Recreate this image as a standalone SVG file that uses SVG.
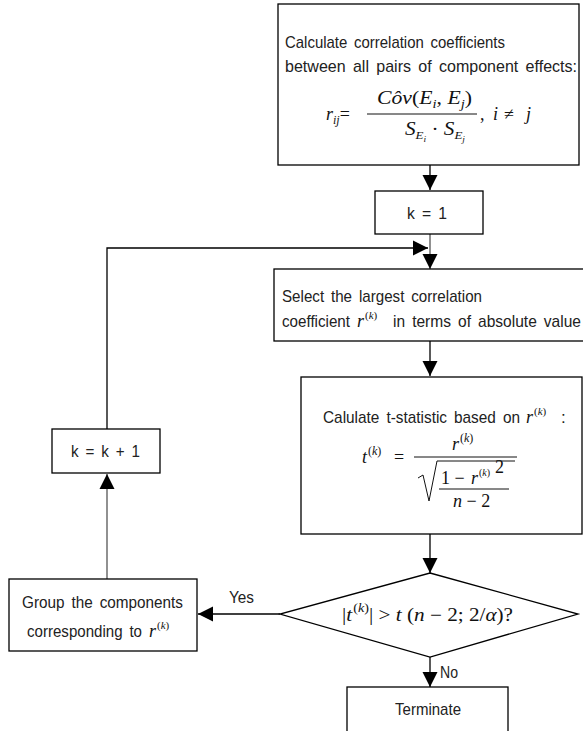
<svg xmlns="http://www.w3.org/2000/svg" width="583" height="731" viewBox="0 0 583 731">
<defs>
<marker id="ah" markerUnits="userSpaceOnUse" markerWidth="16" markerHeight="16" viewBox="0 0 16 16" refX="15" refY="8" orient="auto"><path d="M0,0.5 L15,8 L0,15.5 z" fill="#000"/></marker>
</defs>
<style>
.box{fill:#fff;stroke:#000;stroke-width:1.3}
.c{fill:none;stroke:#000;stroke-width:1.3}
.g{stroke:#555}
.t{font-family:"Liberation Sans",Arial,sans-serif;font-size:17px;fill:#222;word-spacing:3px}
.m{font-family:"Liberation Serif","Times New Roman",serif;font-style:italic;font-size:18px;fill:#111}
.r{font-style:normal}
.i{font-style:italic}
.s{font-size:11px}
.ln{stroke:#111;stroke-width:1}
</style>
<rect width="583" height="731" fill="#fff"/>
<g id="connectors">
<path class="c" d="M430,165 V190" marker-end="url(#ah)"/>
<path class="c g" d="M430,234 V269" marker-end="url(#ah)"/>
<path class="c" d="M107,429 V248 H428" marker-end="url(#ah)"/>
<path class="c" d="M430,341 V376" marker-end="url(#ah)"/>
<path class="c" d="M430,534 V573" marker-end="url(#ah)"/>
<path class="c" d="M280,614 H198" marker-end="url(#ah)"/>
<path class="c g" d="M107,579 V474" marker-end="url(#ah)"/>
<path class="c" d="M430,657 V687" marker-end="url(#ah)"/>
<text class="t" x="229" y="603" textLength="25" lengthAdjust="spacingAndGlyphs">Yes</text>
<text class="t" x="440" y="678" textLength="18" lengthAdjust="spacingAndGlyphs">No</text>
</g>
<g id="calc">
<rect class="box" x="278" y="4" width="301" height="161"/>
<text class="t" x="285" y="48" textLength="220" lengthAdjust="spacingAndGlyphs">Calculate correlation coefficients</text>
<text class="t" x="285" y="72" textLength="292" lengthAdjust="spacingAndGlyphs">between all pairs of component effects:</text>
<text class="m" x="326" y="120" font-size="19">r<tspan font-size="12" dy="4">ij</tspan><tspan class="r" dy="-4">= </tspan></text>
<text class="m" x="377" y="104" font-size="19" textLength="95" lengthAdjust="spacingAndGlyphs">Côv<tspan class="r">(</tspan>E<tspan font-size="12" dy="4">i</tspan><tspan class="r" dy="-4">, </tspan>E<tspan font-size="12" dy="4">j</tspan><tspan class="r" dy="-4">)</tspan></text>
<line class="ln" x1="367" y1="114" x2="477" y2="114"/>
<text class="m" x="405" y="135" font-size="19" textLength="60" lengthAdjust="spacingAndGlyphs">S<tspan font-size="11" dy="4">E</tspan><tspan font-size="8" dy="3">i</tspan><tspan class="r" dy="-7"> · </tspan>S<tspan font-size="11" dy="4">E</tspan><tspan font-size="8" dy="3">j</tspan></text>
<text class="m" x="480" y="120" font-size="19"><tspan class="r">,</tspan></text>
<text class="m" x="493" y="120" font-size="19">i</text>
<text class="m r" x="504" y="120" font-size="19">≠</text>
<text class="m" x="526" y="120" font-size="19">j</text>
</g>
<g id="k1">
<rect class="box" x="375" y="191" width="108" height="43"/>
<text class="t" x="407" y="219" textLength="40" lengthAdjust="spacingAndGlyphs">k = 1</text>
</g>
<g id="select">
<rect class="box" x="274" y="269" width="320" height="72"/>
<text class="t" x="282" y="302" textLength="200" lengthAdjust="spacingAndGlyphs">Select the largest correlation</text>
<text class="t" x="282" y="327" textLength="68" lengthAdjust="spacingAndGlyphs">coefficient</text>
<text class="m" x="357" y="327">r<tspan class="s" dx="1" dy="-8"><tspan class="r">(</tspan>k<tspan class="r">)</tspan></tspan></text>
<text class="t" x="393" y="327" textLength="188" lengthAdjust="spacingAndGlyphs">in terms of absolute value</text>
</g>
<g id="tstat">
<rect class="box" x="301" y="377" width="281" height="157"/>
<text class="t" x="323" y="423" textLength="197" lengthAdjust="spacingAndGlyphs">Calulate t-statistic based on</text>
<text class="m" x="526" y="423">r<tspan class="s" dx="1" dy="-8"><tspan class="r">(</tspan>k<tspan class="r">)</tspan></tspan></text>
<text class="t" x="561" y="423">:</text>
<text class="m" x="362" y="463" font-size="19">t<tspan font-size="12" dx="1" dy="-8"><tspan class="r">(</tspan>k<tspan class="r">)</tspan></tspan></text>
<text class="m r" x="394" y="463" font-size="19">=</text>
<line class="ln" x1="414" y1="457" x2="517" y2="457"/>
<text class="m" x="452" y="450" font-size="19">r<tspan font-size="12" dx="1" dy="-8"><tspan class="r">(</tspan>k<tspan class="r">)</tspan></tspan></text>
<path d="M418,478 L423,475 L429,501 L437,461 L515,461" fill="none" stroke="#111" stroke-width="1"/>
<text class="m r" x="441" y="484" font-size="19">1 −</text>
<text class="m" x="471" y="484" font-size="19">r<tspan font-size="10" dx="1" dy="-8"><tspan class="r">(</tspan>k<tspan class="r">)</tspan></tspan></text>
<text class="m r" x="495" y="473" font-size="8">2</text>
<line class="ln" x1="439" y1="489" x2="509" y2="489"/>
<text class="m" x="453" y="507" font-size="19">n<tspan class="r"> − 2</tspan></text>
</g>
<g id="decision">
<polygon points="430,573 578,614 430,657 280,614" fill="#fff" stroke="#000" stroke-width="1.3"/>
<text class="m r" x="342" y="621" font-size="19" textLength="171" lengthAdjust="spacingAndGlyphs">|<tspan class="i">t</tspan><tspan font-size="12" dx="1" dy="-9">(<tspan class="i">k</tspan>)</tspan><tspan dy="9">| &gt; </tspan><tspan class="i">t</tspan> (<tspan class="i">n</tspan> − 2; 2/<tspan class="i">α</tspan>)?</text>
</g>
<g id="group">
<rect class="box" x="9" y="579" width="188" height="72"/>
<text class="t" x="22" y="608" textLength="161" lengthAdjust="spacingAndGlyphs">Group the components</text>
<text class="t" x="27" y="637" textLength="115" lengthAdjust="spacingAndGlyphs">corresponding to</text>
<text class="m" x="149" y="637">r<tspan class="s" dx="1" dy="-8"><tspan class="r">(</tspan>k<tspan class="r">)</tspan></tspan></text>
</g>
<g id="kinc">
<rect class="box" x="52" y="429" width="108" height="44"/>
<text class="t" x="71" y="457" textLength="69" lengthAdjust="spacingAndGlyphs">k = k + 1</text>
</g>
<g id="terminate">
<rect class="box" x="347" y="687" width="161" height="60"/>
<text class="t" x="395" y="715" textLength="66" lengthAdjust="spacingAndGlyphs">Terminate</text>
</g>
</svg>
